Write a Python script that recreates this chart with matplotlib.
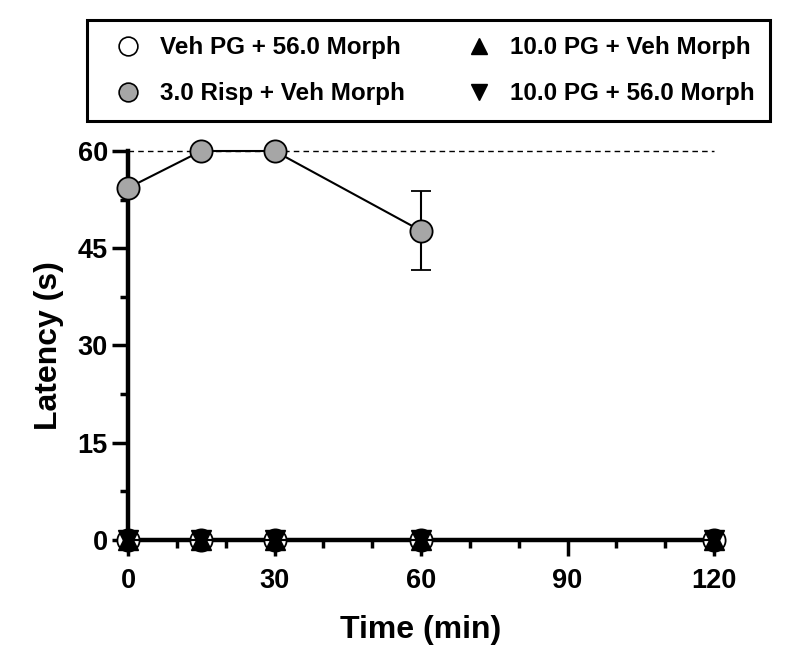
import numpy as np
import matplotlib.pyplot as plt
from matplotlib.lines import Line2D

plt.rcParams['font.family'] = ['Liberation Sans', 'DejaVu Sans']
plt.rcParams['font.weight'] = 'bold'

# data
time = [0, 15, 30, 60, 120]
veh_morph = [0, 0, 0, 0, 0]
pg_veh = [0, 0, 0, 0, 0]
pg_morph = [0, 0, 0, 0, 0]
risp_time = [0, 15, 30, 60]
risp_veh = [54.3, 60, 60, 47.7]
risp_err = [0, 0, 0, 6.1]
labels = ['Veh PG + 56.0 Morph', '3.0 Risp + Veh Morph',
          '10.0 PG + Veh Morph', '10.0 PG + 56.0 Morph']
gray = '#a6a6a6'

fig = plt.figure(figsize=(8, 6.47), dpi=100)
ax = fig.add_axes([0.16, 0.1654, 0.7325, 0.6012])

ax.plot([0, 120], [60, 60], 'k--', lw=1, dashes=(4, 3), clip_on=False, zorder=1)

ax.plot(time, veh_morph, '-o', color='k', mfc='white', mec='k', ms=16, mew=1.3,
        lw=1.5, clip_on=False, zorder=3)
eb = ax.errorbar(risp_time, risp_veh, yerr=risp_err, fmt='-o', color='k', mfc=gray,
                 mec='k', ms=16, mew=1.3, lw=1.5, capsize=7, elinewidth=1.5,
                 capthick=1.5, clip_on=False, zorder=3)
ax.plot(time, pg_veh, '-^', color='k', ms=14, lw=1.5, clip_on=False, zorder=4)
ax.plot(time, pg_morph, '-v', color='k', ms=14, lw=1.5, clip_on=False, zorder=4)
for b in eb[1]:
    b.set_clip_on(False)
for b in eb[2]:
    b.set_clip_on(False)

ax.set_xlim(0, 120)
ax.set_ylim(0, 60)
ax.set_xticks([0, 30, 60, 90, 120])
ax.set_xticks(np.arange(0, 121, 10), minor=True)
ax.set_yticks([0, 15, 30, 45, 60])
ax.set_yticks(np.arange(0, 61, 7.5), minor=True)
for s in ['top', 'right']:
    ax.spines[s].set_visible(False)
for s in ['left', 'bottom']:
    ax.spines[s].set_linewidth(3.2)
ax.tick_params(which='major', length=11.5, width=2.5, labelsize=19.5)
ax.tick_params(which='minor', length=6, width=2.5)
ax.tick_params(axis='x', which='major', pad=9)
ax.tick_params(axis='y', which='major', pad=3)
ax.set_xlabel('Time (min)', fontsize=23, fontweight='bold', labelpad=15)
ax.set_ylabel('Latency (s)', fontsize=23, fontweight='bold', labelpad=10)

handles = [
    Line2D([], [], ls='none', marker='o', ms=13.5, mfc='white', mec='k', mew=1.2),
    Line2D([], [], ls='none', marker='o', ms=13.5, mfc=gray, mec='k', mew=1.2),
    Line2D([], [], ls='none', marker='^', ms=12, color='k'),
    Line2D([], [], ls='none', marker='v', ms=12, color='k'),
]
leg = fig.legend(handles, labels, ncol=2, loc='upper left',
                 bbox_to_anchor=(0.109, 0.5, 0.854, 0.469), mode='expand',
                 fontsize=17.5, frameon=True, fancybox=False, edgecolor='k',
                 handlelength=2.07, handletextpad=0.25, borderpad=0.66,
                 labelspacing=0.95, borderaxespad=0, framealpha=1,
                 columnspacing=0.5)
leg.get_frame().set_linewidth(2.2)
for t in leg.get_texts():
    t.set_fontweight('bold')

fig.savefig('out.png', dpi=100)
